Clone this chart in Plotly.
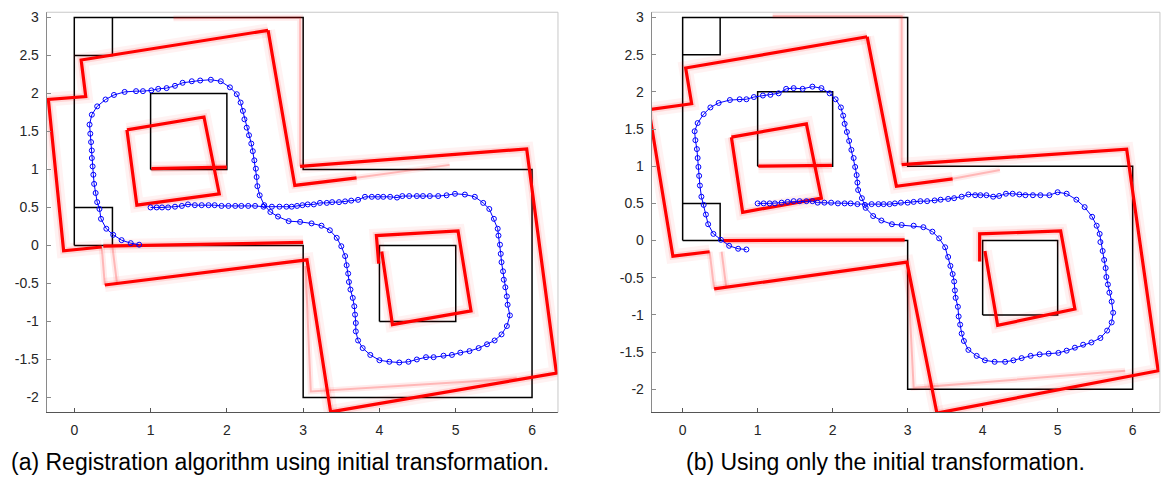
import plotly.graph_objects as go

# ---------------- ground-truth map (black) ----------------
map_outer_x = [0, 0, 3, 3, 6, 6, 3, 3, 0]
map_outer_y = [0, 3, 3, 1, 1, -2, -2, 0, 0]
map_tl_x = [0, 0.5, 0.5]
map_tl_y = [2.5, 2.5, 3]
map_bl_x = [0, 0.5, 0.5]
map_bl_y = [0.5, 0.5, 0]
map_sq1_x = [1, 2, 2, 1, 1]
map_sq1_y = [1, 1, 2, 2, 1]
map_sq2_x = [4, 5, 5, 4, 4]
map_sq2_y = [-1, -1, 0, 0, -1]

# ---------------- (a) registered scans (red) ----------------
red_a_thick_x = [
    [2.54, 0.09, 0.15, -0.34, -0.14, 0.36],
    [0.40, 3.05, 3.36],
    [0.38, 3.00],
    [2.54, 2.89, 3.70],
    [2.96, 5.93, 6.32, 3.36],
    [0.69, 1.70, 1.90, 0.82, 0.69],
    [1.01, 2.00],
    [4.03, 4.17, 5.20, 5.03, 3.96, 3.99],
]
red_a_thick_y = [
    [2.83, 2.44, 1.96, 1.92, -0.07, -0.02],
    [-0.52, -0.19, -2.19],
    [-0.01, 0.04],
    [2.83, 0.79, 0.89],
    [1.04, 1.27, -1.68, -2.19],
    [1.52, 1.69, 0.68, 0.53, 1.52],
    [1.01, 1.03],
    [-0.08, -1.04, -0.86, 0.19, 0.13, -0.24],
]
red_a_faint_x = [
    [1.30, 2.96, 2.96],
    [3.70, 4.92],
    [0.36, 0.40],
    [0.50, 0.56],
    [3.03, 3.10, 5.80],
]
red_a_faint_y = [
    [2.99, 3.00, 1.04],
    [0.89, 1.06],
    [-0.02, -0.52],
    [-0.02, -0.50],
    [-0.27, -1.92, -1.75],
]

# ---------------- (b) initial transformation only (red) ----------------
red_b_thick_x = [
    [2.46, 0.04, 0.12, -0.45, -0.13, 0.36],
    [0.42, 2.99, 3.39],
    [0.54, 2.96],
    [2.46, 2.85, 3.60],
    [2.92, 5.92, 6.34, 3.39],
    [0.65, 1.65, 1.85, 0.80, 0.65],
    [1.01, 1.99],
    [4.03, 4.20, 5.23, 5.04, 3.96, 3.96],
]
red_b_thick_y = [
    [2.74, 2.32, 1.84, 1.76, -0.21, -0.15],
    [-0.65, -0.29, -2.32],
    [0.00, 0.01],
    [2.74, 0.73, 0.83],
    [1.02, 1.23, -1.75, -2.32],
    [1.39, 1.57, 0.57, 0.38, 1.39],
    [1.00, 1.01],
    [-0.14, -1.14, -0.92, 0.13, 0.09, -0.28],
]
red_b_faint_x = [
    [1.20, 2.92, 2.92],
    [3.60, 4.23],
    [0.36, 0.42],
    [0.52, 0.58],
    [3.00, 3.08, 5.90],
]
red_b_faint_y = [
    [3.02, 3.02, 1.02],
    [0.83, 0.95],
    [-0.15, -0.65],
    [-0.15, -0.62],
    [-0.40, -1.98, -1.75],
]

# ---------------- robot trajectories (blue) ----------------
traj_a_x = [0.85, 0.74, 0.62, 0.51, 0.42, 0.35, 0.33, 0.30, 0.28, 0.26,
            0.25, 0.24, 0.23, 0.23, 0.22, 0.21, 0.20, 0.23, 0.30, 0.41,
            0.52, 0.66, 0.81, 0.90, 1.01, 1.10, 1.21, 1.32, 1.42, 1.54,
            1.65, 1.79, 1.92, 2.04, 2.13, 2.18, 2.21, 2.23, 2.26, 2.29,
            2.32, 2.34, 2.36, 2.38, 2.39, 2.40, 2.43, 2.49, 2.57, 2.67,
            2.81, 2.96, 3.11, 3.24, 3.35, 3.44, 3.50, 3.55, 3.57, 3.59,
            3.60, 3.62, 3.65, 3.67, 3.68, 3.69, 3.69, 3.72, 3.78, 3.88,
            4.00, 4.13, 4.26, 4.38, 4.49, 4.61, 4.71, 4.84, 4.95, 5.06,
            5.18, 5.30, 5.41, 5.51, 5.60, 5.67, 5.71, 5.68, 5.67, 5.65,
            5.63, 5.62, 5.60, 5.59, 5.58, 5.56, 5.55, 5.50, 5.44, 5.36,
            5.25, 5.12, 4.99, 4.88, 4.77, 4.66, 4.57, 4.49, 4.39, 4.30,
            4.23, 4.14, 4.05, 3.98, 3.90, 3.81, 3.72, 3.63, 3.55, 3.47,
            3.38, 3.31, 3.22, 3.14, 3.06, 2.99, 2.92, 2.85, 2.78, 2.69,
            2.59, 2.48, 2.37, 2.28, 2.19, 2.11, 2.02, 1.93, 1.84, 1.76,
            1.67, 1.58, 1.49, 1.41, 1.32, 1.23, 1.15, 1.08, 1.00]
traj_a_y = [0.01, 0.03, 0.07, 0.14, 0.22, 0.35, 0.48, 0.57, 0.69, 0.81,
            0.93, 1.04, 1.15, 1.25, 1.36, 1.47, 1.59, 1.72, 1.83, 1.92,
            1.98, 2.02, 2.03, 2.03, 2.04, 2.06, 2.07, 2.10, 2.14, 2.16,
            2.17, 2.18, 2.16, 2.08, 1.99, 1.88, 1.77, 1.66, 1.55, 1.45,
            1.34, 1.24, 1.12, 1.01, 0.90, 0.78, 0.66, 0.53, 0.44, 0.38,
            0.32, 0.31, 0.29, 0.26, 0.20, 0.10, -0.01, -0.14, -0.26, -0.37,
            -0.48, -0.58, -0.69, -0.80, -0.91, -1.02, -1.13, -1.25, -1.35, -1.44,
            -1.51, -1.53, -1.54, -1.53, -1.50, -1.47, -1.47, -1.45, -1.44, -1.41,
            -1.39, -1.35, -1.30, -1.25, -1.17, -1.06, -0.92, -0.78, -0.67, -0.55,
            -0.45, -0.34, -0.22, -0.11, 0.01, 0.13, 0.22, 0.35, 0.48, 0.56,
            0.64, 0.67, 0.68, 0.66, 0.65, 0.65, 0.65, 0.65, 0.65, 0.65,
            0.63, 0.64, 0.64, 0.64, 0.64, 0.64, 0.60, 0.59, 0.58, 0.57,
            0.57, 0.56, 0.56, 0.54, 0.54, 0.53, 0.52, 0.51, 0.51, 0.51,
            0.51, 0.51, 0.52, 0.52, 0.52, 0.52, 0.52, 0.52, 0.53, 0.53,
            0.53, 0.53, 0.54, 0.52, 0.51, 0.50, 0.50, 0.50, 0.50]

traj_b_x = [0.85, 0.74, 0.62, 0.51, 0.41, 0.34, 0.31, 0.28, 0.25, 0.23,
            0.22, 0.21, 0.20, 0.19, 0.17, 0.16, 0.20, 0.28, 0.37, 0.48,
            0.63, 0.76, 0.85, 0.95, 1.07, 1.17, 1.28, 1.38, 1.48, 1.60,
            1.73, 1.85, 1.96, 2.04, 2.11, 2.14, 2.16, 2.19, 2.22, 2.25,
            2.28, 2.30, 2.32, 2.33, 2.34, 2.39, 2.44, 2.54, 2.65, 2.79,
            2.92, 3.08, 3.21, 3.33, 3.42, 3.50, 3.54, 3.57, 3.60, 3.62,
            3.63, 3.64, 3.67, 3.68, 3.70, 3.72, 3.75, 3.81, 3.92, 4.03,
            4.16, 4.30, 4.41, 4.52, 4.64, 4.76, 4.88, 5.01, 5.12, 5.23,
            5.34, 5.45, 5.57, 5.66, 5.72, 5.74, 5.72, 5.69, 5.67, 5.65,
            5.64, 5.62, 5.60, 5.57, 5.56, 5.52, 5.46, 5.36, 5.25, 5.12,
            5.00, 4.89, 4.77, 4.67, 4.57, 4.49, 4.40, 4.31, 4.22, 4.14,
            4.05, 3.97, 3.90, 3.81, 3.72, 3.62, 3.54, 3.44, 3.36, 3.26,
            3.17, 3.08, 3.00, 2.91, 2.83, 2.76, 2.68, 2.61, 2.52, 2.43,
            2.33, 2.24, 2.16, 2.07, 1.98, 1.89, 1.80, 1.73, 1.65, 1.56,
            1.48, 1.40, 1.32, 1.23, 1.16, 1.08, 1.00]
traj_b_y = [-0.12, -0.11, -0.07, 0.01, 0.09, 0.22, 0.35, 0.48, 0.59, 0.74,
            0.87, 0.99, 1.11, 1.23, 1.35, 1.47, 1.58, 1.70, 1.79, 1.85,
            1.89, 1.90, 1.90, 1.93, 1.95, 1.96, 1.98, 2.04, 2.05, 2.04,
            2.07, 2.05, 1.98, 1.90, 1.79, 1.68, 1.57, 1.46, 1.34, 1.22,
            1.11, 0.99, 0.88, 0.78, 0.68, 0.57, 0.44, 0.33, 0.27, 0.22,
            0.21, 0.20, 0.18, 0.12, 0.03, -0.09, -0.22, -0.34, -0.45, -0.55,
            -0.67, -0.77, -0.89, -1.02, -1.13, -1.25, -1.35, -1.47, -1.55, -1.61,
            -1.63, -1.63, -1.61, -1.58, -1.55, -1.53, -1.52, -1.51, -1.48, -1.44,
            -1.40, -1.37, -1.31, -1.21, -1.10, -0.97, -0.82, -0.70, -0.59, -0.49,
            -0.37, -0.26, -0.14, -0.02, 0.09, 0.20, 0.32, 0.45, 0.55, 0.63,
            0.65, 0.61, 0.61, 0.61, 0.61, 0.62, 0.63, 0.63, 0.60, 0.59,
            0.61, 0.61, 0.61, 0.62, 0.59, 0.57, 0.56, 0.55, 0.54, 0.53,
            0.53, 0.52, 0.51, 0.51, 0.50, 0.49, 0.49, 0.49, 0.49, 0.48,
            0.49, 0.50, 0.50, 0.50, 0.51, 0.51, 0.51, 0.53, 0.53, 0.53,
            0.53, 0.52, 0.51, 0.50, 0.50, 0.50, 0.50]

# ---------------- axis ticks / captions ----------------
x_tick_vals = [0, 1, 2, 3, 4, 5, 6]
x_tick_text = ["0", "1", "2", "3", "4", "5", "6"]
y_tick_vals = [-2, -1.5, -1, -0.5, 0, 0.5, 1, 1.5, 2, 2.5, 3]
y_tick_text = ["-2", "-1.5", "-1", "-0.5", "0", "0.5", "1", "1.5", "2", "2.5", "3"]
caption_a = "(a) Registration algorithm using initial transformation."
caption_b = "(b) Using only the initial transformation."


def join(xs_list, ys_list):
    xs, ys = [], []
    for sx, sy in zip(xs_list, ys_list):
        xs += list(sx) + [None]
        ys += list(sy) + [None]
    return xs, ys


map_x, map_y = join([map_outer_x, map_tl_x, map_bl_x, map_sq1_x, map_sq2_x],
                    [map_outer_y, map_tl_y, map_bl_y, map_sq1_y, map_sq2_y])

fig = go.Figure()

panels = [
    ("x", "y", red_a_thick_x, red_a_thick_y, red_a_faint_x, red_a_faint_y, traj_a_x, traj_a_y),
    ("x2", "y2", red_b_thick_x, red_b_thick_y, red_b_faint_x, red_b_faint_y, traj_b_x, traj_b_y),
]

for xa, ya, rtx, rty, rfx, rfy, tx, ty in panels:
    fig.add_trace(go.Scatter(x=map_x, y=map_y, xaxis=xa, yaxis=ya, mode="lines",
                             line=dict(color="black", width=1.5), hoverinfo="skip"))
    thx, thy = join(rtx, rty)
    fax, fay = join(rfx, rfy)
    # soft halo around the accumulated scans
    fig.add_trace(go.Scatter(x=thx, y=thy, xaxis=xa, yaxis=ya, mode="lines",
                             line=dict(color="rgba(255,0,0,0.05)", width=14), hoverinfo="skip"))
    fig.add_trace(go.Scatter(x=thx, y=thy, xaxis=xa, yaxis=ya, mode="lines",
                             line=dict(color="rgba(255,0,0,0.11)", width=7), hoverinfo="skip"))
    fig.add_trace(go.Scatter(x=fax, y=fay, xaxis=xa, yaxis=ya, mode="lines",
                             line=dict(color="rgba(255,0,0,0.08)", width=6), hoverinfo="skip"))
    fig.add_trace(go.Scatter(x=fax, y=fay, xaxis=xa, yaxis=ya, mode="lines",
                             line=dict(color="rgba(255,0,0,0.22)", width=2), hoverinfo="skip"))
    fig.add_trace(go.Scatter(x=thx, y=thy, xaxis=xa, yaxis=ya, mode="lines",
                             line=dict(color="#ff0000", width=3.2), hoverinfo="skip"))
    fig.add_trace(go.Scatter(x=tx, y=ty, xaxis=xa, yaxis=ya, mode="lines+markers",
                             line=dict(color="#0000ff", width=1),
                             marker=dict(symbol="circle-open", size=5, color="#0000ff",
                                         line=dict(width=1, color="#0000ff")),
                             hoverinfo="skip"))

tick_font = dict(family="Liberation Sans, Arial, sans-serif", size=14, color="#262626")


def xaxis_cfg(domain, rng, anchor):
    return dict(domain=domain, range=rng, anchor=anchor, showgrid=False, zeroline=False,
                showline=True, linecolor="#555555", linewidth=1, mirror=False,
                ticks="inside", ticklen=4, tickcolor="#555555", tickwidth=1,
                tickvals=x_tick_vals, ticktext=x_tick_text, tickfont=tick_font,
                ticklabelstandoff=5, fixedrange=True)


def yaxis_cfg(domain, rng, anchor):
    return dict(domain=domain, range=rng, anchor=anchor, showgrid=False, zeroline=False,
                showline=True, linecolor="#8a8a8a", linewidth=1, mirror=False,
                ticks="inside", ticklen=4, tickcolor="#8a8a8a", tickwidth=1,
                tickvals=y_tick_vals, ticktext=y_tick_text, tickfont=tick_font,
                ticklabelstandoff=4, fixedrange=True)


ydom = [0.1363, 0.9805]
fig.update_layout(
    width=1161, height=477,
    margin=dict(l=0, r=0, t=0, b=0),
    paper_bgcolor="white", plot_bgcolor="white",
    showlegend=False,
    xaxis=xaxis_cfg([0.0402, 0.4806], [-0.362, 6.34], "y"),
    yaxis=yaxis_cfg(ydom, [-2.196, 3.068], "x"),
    xaxis2=xaxis_cfg([0.5613, 0.9991], [-0.413, 6.364], "y2"),
    yaxis2=yaxis_cfg(ydom, [-2.31, 3.07], "x2"),
)

frame = dict(color="#c8c8c8", width=1)
for xr, yr in (("x domain", "y domain"), ("x2 domain", "y2 domain")):
    fig.add_shape(type="line", xref=xr, yref=yr, x0=0, x1=1, y0=1, y1=1, line=frame)
    fig.add_shape(type="line", xref=xr, yref=yr, x0=1, x1=1, y0=0, y1=1, line=frame)

cap_font = dict(family="Liberation Sans, Arial, sans-serif", size=23, color="#000000")
fig.add_annotation(text=caption_a, xref="paper", yref="paper", x=0.2412, y=0.031,
                   xanchor="center", yanchor="middle", showarrow=False, font=cap_font)
fig.add_annotation(text=caption_b, xref="paper", yref="paper", x=0.7627, y=0.031,
                   xanchor="center", yanchor="middle", showarrow=False, font=cap_font)

fig.write_html("out.html")
